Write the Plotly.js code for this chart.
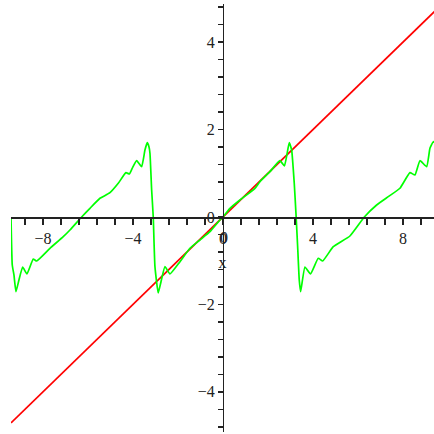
<!DOCTYPE html>
<html>
<head>
<meta charset="utf-8">
<script src="https://cdn.plot.ly/plotly-3.0.1.min.js"></script>
<style>
  html, body { margin: 0; padding: 0; background: #fff; }
  #chart { width: 434px; height: 434px; }
</style>
</head>
<body>
<div id="chart"></div>
<script>
// red line: y = x/2
var lineX = [-9.42, 0, 9.42];
var lineY = [-4.71, 0, 4.71];

// green curve
var waveX = [-9.42, -9.364, -9.289, -9.2, -9.067, -8.902, -8.711, -8.431, -8.28, -7.689,
  -7.098, -6.8, -6.28, -5.911, -5.467, -5.022, -4.653, -4.311, -4.156, -4.013,
  -3.836, -3.613, -3.467, -3.364, -3.289, -3.244, -3.169, -3.098, -3.022, -2.876,
  -2.756, -2.578, -2.356, -1.911, -1.467, -1.022, -0.578, -0.133, 0, 0.311,
  0.756, 1.422, 1.644, 2.089, 2.533, 2.733, 2.947, 3.053, 3.169, 3.244,
  3.32, 3.391, 3.453, 3.644, 3.889, 4.236, 4.431, 4.902, 5.644, 6.283,
  6.831, 7.347, 7.867, 8.311, 8.533, 8.756, 9.053, 9.2, 9.347, 9.42];
var waveY = [0, -1.098, -1.327, -1.709, -1.44, -1.144, -1.304, -0.961, -1.007, -0.716,
  -0.451, -0.297, 0, 0.199, 0.428, 0.556, 0.771, 1.014, 0.984, 1.137,
  1.288, 1.151, 1.533, 1.7, 1.609, 1.458, 0.618, 0, -1.137, -1.739,
  -1.487, -1.137, -1.304, -1.023, -0.716, -0.526, -0.336, -0.069, 0, 0.199,
  0.389, 0.657, 0.808, 1.037, 1.288, 1.167, 1.7, 1.533, 0.771, 0.092,
  -0.68, -1.442, -1.709, -1.144, -1.304, -0.945, -1.007, -0.68, -0.435, 0,
  0.275, 0.465, 0.657, 1.014, 0.961, 1.288, 1.151, 1.572, 1.723, 1.7];

var axisColor = '#222';
var tickFont = {family: 'Liberation Serif', size: 16, color: '#222'};

var traces = [
  {x: lineX, y: lineY, type: 'scatter', mode: 'lines',
   line: {color: '#ff0000', width: 1.7}, hoverinfo: 'skip'},
  {x: waveX, y: waveY, type: 'scatter', mode: 'lines',
   line: {color: '#00ff00', width: 1.7, shape: 'spline', smoothing: 0.4}, hoverinfo: 'skip'}
];

var layout = {
  width: 434,
  height: 434,
  margin: {l: 11, r: 0, t: 4, b: 2},
  paper_bgcolor: '#fff',
  plot_bgcolor: '#fff',
  showlegend: false,
  xaxis: {
    range: [-9.42, 9.38],
    anchor: 'free',
    position: 0.5023,
    showgrid: false,
    zeroline: false,
    showline: true,
    linecolor: axisColor,
    linewidth: 1.5,
    ticks: 'outside',
    ticklen: 6,
    tickwidth: 1.5,
    tickcolor: axisColor,
    tick0: 0,
    dtick: 4,
    minor: {dtick: 0.8, ticks: 'outside', ticklen: 6, tickwidth: 1.5, tickcolor: axisColor},
    tickfont: tickFont,
    title: {text: 'x', font: tickFont, standoff: 11}
  },
  yaxis: {
    range: [-4.92, 4.874],
    anchor: 'free',
    position: 0.5011,
    showgrid: false,
    zeroline: false,
    showline: true,
    linecolor: axisColor,
    linewidth: 1.5,
    ticks: 'outside',
    ticklen: 5,
    tickwidth: 1.5,
    tickcolor: axisColor,
    tick0: 0,
    dtick: 2,
    minor: {dtick: 0.4, ticks: 'outside', ticklen: 5, tickwidth: 1.5, tickcolor: axisColor},
    tickfont: tickFont
  },
  // the x-axis "0" label, which plotly hides where the two axes cross
  annotations: [{
    x: 0, y: -0.48, xref: 'x', yref: 'y',
    text: '0', showarrow: false, xanchor: 'center', yanchor: 'middle',
    xshift: 1, font: tickFont
  }]
};

Plotly.newPlot('chart', traces, layout, {staticPlot: true, displayModeBar: false});
</script>
</body>
</html>
